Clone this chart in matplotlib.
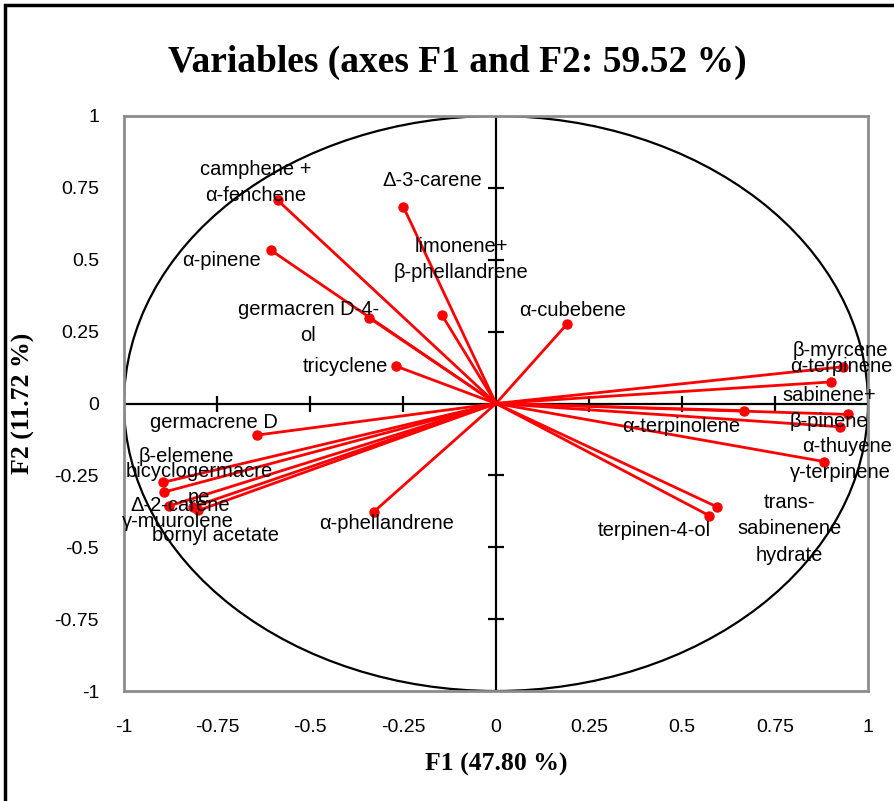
import matplotlib.pyplot as plt
from matplotlib.patches import Ellipse, Rectangle
import numpy as np


VARIABLES = [
    'camphene + α-fenchene', 'Δ-3-carene', 'α-pinene', 'limonene+β-phellandrene',
    'germacren D-4-ol', 'tricyclene', 'α-cubebene', 'β-myrcene', 'α-terpinene',
    'sabinene+β-pinene', 'α-thuyene', 'α-terpinolene', 'γ-terpinene',
    'trans-sabinenene hydrate', 'terpinen-4-ol', 'germacrene D', 'β-elemene',
    'bicyclogermacrene', 'Δ-2-carene', 'γ-muurolene', 'bornyl acetate', 'α-phellandrene',
]
F1 = [-0.587, -0.249, -0.605, -0.145, -0.341, -0.269, 0.190, 0.933, 0.901,
      0.947, 0.925, 0.667, 0.882, 0.593, 0.573, -0.643, -0.894,
      -0.892, -0.880, -0.815, -0.800, -0.328]
F2 = [0.707, 0.684, 0.533, 0.307, 0.298, 0.130, 0.275, 0.128, 0.075,
      -0.038, -0.081, -0.025, -0.202, -0.359, -0.390, -0.110, -0.274,
      -0.308, -0.357, -0.360, -0.372, -0.376]

# label text as drawn (wrapped like the original) and where it sits
LABELS = [
    'camphene +\nα-fenchene', 'Δ-3-carene', 'α-pinene', 'limonene+\nβ-phellandrene',
    'germacren D-4-\nol', 'tricyclene', 'α-cubebene', 'β-myrcene', 'α-terpinene',
    'sabinene+\nβ-pinene', 'α-thuyene', 'α-terpinolene', 'γ-terpinene',
    'trans-\nsabinenene\nhydrate', 'terpinen-4-ol', 'germacrene D', 'β-elemene',
    'bicyclogermacre\nne', 'Δ-2-carene', 'γ-muurolene', 'bornyl acetate', 'α-phellandrene',
]
LABEL_POS = [
    (-0.645, 0.769), (-0.172, 0.776), (-0.739, 0.497), (-0.094, 0.501),
    (-0.505, 0.282), (-0.406, 0.129), (0.207, 0.323), (0.927, 0.184), (0.927, 0.129),
    (0.895, -0.017), (0.944, -0.150), (0.497, -0.080), (0.927, -0.240),
    (0.788, -0.435), (0.425, -0.442), (-0.758, -0.066), (-0.833, -0.184),
    (-0.798, -0.282), (-0.849, -0.355), (-0.855, -0.410), (-0.753, -0.459), (-0.293, -0.417),
]

TICKS = [-1, -0.75, -0.5, -0.25, 0, 0.25, 0.5, 0.75, 1]
TICK_LABELS = ['-1', '-0.75', '-0.5', '-0.25', '0', '0.25', '0.5', '0.75', '1']


def main():
    fig = plt.figure(figsize=(8.94, 8.01), dpi=100)
    ax = fig.add_axes([124 / 894, 1 - 691 / 801, 744 / 894, 575 / 801])

    # outer frame of the chart
    fig.patches.append(Rectangle((5 / 894, -0.05), 1.1, 1 - 5 / 801 + 0.05,
                                 transform=fig.transFigure, fill=False,
                                 edgecolor='black', linewidth=2.5))

    ax.set_xlim(-1, 1)
    ax.set_ylim(-1, 1)
    for s in ax.spines.values():
        s.set_color('#8c8c8c')
        s.set_linewidth(2)

    ax.add_patch(Ellipse((0, 0), 2, 2, fill=False, edgecolor='black', linewidth=1.6))
    ax.axhline(0, color='black', linewidth=1.6)
    ax.axvline(0, color='black', linewidth=1.6)
    inner = [t for t in TICKS if abs(t) not in (0, 1)]
    ax.plot(inner, [0] * len(inner), linestyle='none', marker='|', color='black',
            markersize=12, markeredgewidth=1.6)
    ax.plot([0] * len(inner), inner, linestyle='none', marker='_', color='black',
            markersize=12, markeredgewidth=1.6)

    for x, y in zip(F1, F2):
        ax.plot([0, x], [0, y], color='red', linewidth=2)
    ax.plot(F1, F2, linestyle='none', marker='o', color='red', markersize=6.5)

    for text, (lx, ly) in zip(LABELS, LABEL_POS):
        ax.text(lx, ly, text, ha='center', va='center', fontsize=14.5,
                family='Liberation Sans', linespacing=1.5, clip_on=False)

    ax.set_xticks(TICKS)
    ax.set_xticklabels(TICK_LABELS)
    ax.set_yticks(TICKS)
    ax.set_yticklabels(TICK_LABELS)
    ax.tick_params(length=0, labelsize=14, pad=18)
    ax.tick_params(axis='x', pad=20)
    for lab in ax.get_xticklabels() + ax.get_yticklabels():
        lab.set_family('Liberation Sans')

    ax.set_xlabel('F1 (47.80 %)', family='Liberation Serif', fontweight='bold',
                  fontsize=18.5, labelpad=12)
    ax.set_ylabel('F2 (11.72 %)', family='Liberation Serif', fontweight='bold',
                  fontsize=18.5)
    ax.yaxis.set_label_coords(-0.12, 0.5)
    fig.text(0.511, 1 - 62 / 801, 'Variables (axes F1 and F2: 59.52 %)',
             ha='center', va='center', family='Liberation Serif',
             fontweight='bold', fontsize=27)

    fig.savefig('out.png', dpi=100)


if __name__ == '__main__':
    main()
